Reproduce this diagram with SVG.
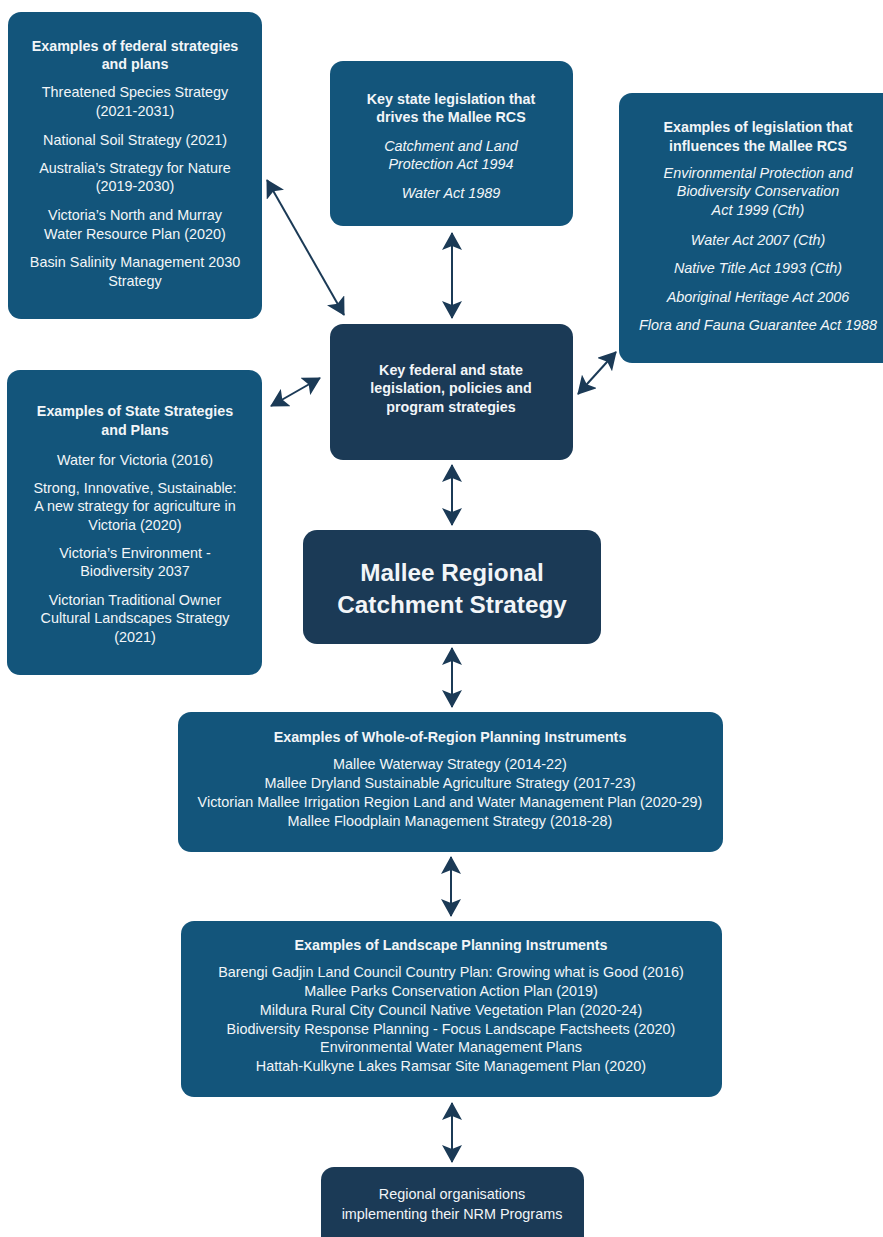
<svg xmlns="http://www.w3.org/2000/svg" width="883" height="1237" viewBox="0 0 883 1237">
<defs>
<style>
.mid{fill:#13557b}
.dark{fill:#1b3a56}
text{font-family:"Liberation Sans",Arial,sans-serif;fill:#f2f5f8;text-anchor:middle}
.t{font-weight:bold;font-size:14.3px}
.b{font-size:14.4px}
.i{font-size:14.4px;font-style:italic}
.big{font-weight:bold;font-size:24.3px}
.con{stroke:#1b3a56;stroke-width:2;fill:none;marker-start:url(#ah);marker-end:url(#ah)}
</style>
<marker id="ah" viewBox="0 0 18 20" refX="17" refY="10" markerWidth="18" markerHeight="20" markerUnits="userSpaceOnUse" orient="auto-start-reverse">
<path d="M0,0 L18,10 L0,20 L4,10 z" fill="#1b3a56"/>
</marker>
</defs>
<rect width="883" height="1237" fill="#ffffff"/>

<g id="connectors">
<line class="con" x1="267" y1="180" x2="344" y2="315"/>
<line class="con" x1="452" y1="233" x2="452" y2="318"/>
<line class="con" x1="271" y1="406" x2="320" y2="378"/>
<line class="con" x1="578" y1="394" x2="616" y2="352"/>
<line class="con" x1="452" y1="465" x2="452" y2="525"/>
<line class="con" x1="452" y1="648" x2="452" y2="707"/>
<line class="con" x1="451" y1="857" x2="451" y2="916"/>
<line class="con" x1="452" y1="1103" x2="452" y2="1162"/>
</g>

<g id="federal">
<rect class="mid" x="8" y="12" width="254" height="307" rx="13"/>
<text class="t" x="135" y="51">Examples of federal strategies</text>
<text class="t" x="135" y="69">and plans</text>
<text class="b" x="135" y="97">Threatened Species Strategy</text>
<text class="b" x="135" y="116">(2021-2031)</text>
<text class="b" x="135" y="145">National Soil Strategy (2021)</text>
<text class="b" x="135" y="173">Australia’s Strategy for Nature</text>
<text class="b" x="135" y="191">(2019-2030)</text>
<text class="b" x="135" y="220">Victoria’s North and Murray</text>
<text class="b" x="135" y="239">Water Resource Plan (2020)</text>
<text class="b" x="135" y="267">Basin Salinity Management 2030</text>
<text class="b" x="135" y="286">Strategy</text>
</g>

<g id="state-legislation">
<rect class="mid" x="330" y="61" width="243" height="165" rx="13"/>
<text class="t" x="451" y="104">Key state legislation that</text>
<text class="t" x="451" y="122">drives the Mallee RCS</text>
<text class="i" x="451" y="151">Catchment and Land</text>
<text class="i" x="451" y="169">Protection Act 1994</text>
<text class="i" x="451" y="198">Water Act 1989</text>
</g>

<g id="influences">
<rect class="mid" x="619" y="93" width="280" height="270" rx="13"/>
<text class="t" x="758" y="132">Examples of legislation that</text>
<text class="t" x="758" y="151">influences the Mallee RCS</text>
<text class="i" x="758" y="178">Environmental Protection and</text>
<text class="i" x="758" y="196">Biodiversity Conservation</text>
<text class="i" x="758" y="215">Act 1999 (Cth)</text>
<text class="i" x="758" y="245">Water Act 2007 (Cth)</text>
<text class="i" x="758" y="273">Native Title Act 1993 (Cth)</text>
<text class="i" x="758" y="302">Aboriginal Heritage Act 2006</text>
<text class="i" x="758" y="330">Flora and Fauna Guarantee Act 1988</text>
</g>

<g id="key-federal-state">
<rect class="dark" x="330" y="324" width="243" height="136" rx="13"/>
<text class="t" x="451" y="375">Key federal and state</text>
<text class="t" x="451" y="393">legislation, policies and</text>
<text class="t" x="451" y="412">program strategies</text>
</g>

<g id="state-strategies">
<rect class="mid" x="7" y="370" width="255" height="305" rx="13"/>
<text class="t" x="135" y="416">Examples of State Strategies</text>
<text class="t" x="135" y="435">and Plans</text>
<text class="b" x="135" y="465">Water for Victoria (2016)</text>
<text class="b" x="135" y="493">Strong, Innovative, Sustainable:</text>
<text class="b" x="135" y="511">A new strategy for agriculture in</text>
<text class="b" x="135" y="530">Victoria (2020)</text>
<text class="b" x="135" y="558">Victoria’s Environment -</text>
<text class="b" x="135" y="576">Biodiversity 2037</text>
<text class="b" x="135" y="605">Victorian Traditional Owner</text>
<text class="b" x="135" y="623">Cultural Landscapes Strategy</text>
<text class="b" x="135" y="642">(2021)</text>
</g>

<g id="mallee-rcs">
<rect class="dark" x="303" y="530" width="298" height="114" rx="14"/>
<text class="big" x="452" y="581">Mallee Regional</text>
<text class="big" x="452" y="613">Catchment Strategy</text>
</g>

<g id="whole-of-region">
<rect class="mid" x="178" y="712" width="545" height="140" rx="13"/>
<text class="t" x="450" y="742">Examples of Whole-of-Region Planning Instruments</text>
<text class="b" x="450" y="769">Mallee Waterway Strategy (2014-22)</text>
<text class="b" x="450" y="788">Mallee Dryland Sustainable Agriculture Strategy (2017-23)</text>
<text class="b" x="450" y="807">Victorian Mallee Irrigation Region Land and Water Management Plan (2020-29)</text>
<text class="b" x="450" y="826">Mallee Floodplain Management Strategy (2018-28)</text>
</g>

<g id="landscape">
<rect class="mid" x="181" y="921" width="541" height="176" rx="13"/>
<text class="t" x="451" y="950">Examples of Landscape Planning Instruments</text>
<text class="b" x="451" y="977">Barengi Gadjin Land Council Country Plan: Growing what is Good (2016)</text>
<text class="b" x="451" y="996">Mallee Parks Conservation Action Plan (2019)</text>
<text class="b" x="451" y="1015">Mildura Rural City Council Native Vegetation Plan (2020-24)</text>
<text class="b" x="451" y="1034">Biodiversity Response Planning - Focus Landscape Factsheets (2020)</text>
<text class="b" x="451" y="1052">Environmental Water Management Plans</text>
<text class="b" x="451" y="1071">Hattah-Kulkyne Lakes Ramsar Site Management Plan (2020)</text>
</g>

<g id="regional-organisations">
<rect class="dark" x="321" y="1167" width="263" height="90" rx="13"/>
<text class="b" x="452" y="1199">Regional organisations</text>
<text class="b" x="452" y="1219">implementing their NRM Programs</text>
</g>
</svg>
